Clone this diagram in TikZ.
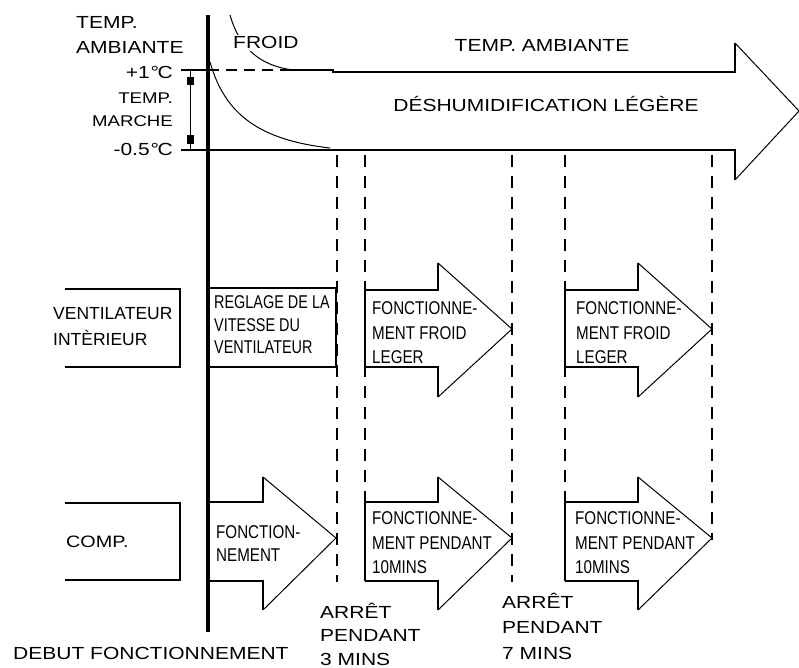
\documentclass[tikz,border=0pt]{standalone}
\usepackage{fontspec}
\setmainfont{Liberation Sans}
\newfontfamily\widefont[FakeStretch=1.2]{Liberation Sans}
\newfontfamily\narrowfont[FakeStretch=0.82]{Liberation Sans}
\newfontfamily\narrowerfont[FakeStretch=0.78]{Liberation Sans}
\begin{document}
\begin{tikzpicture}[x=1pt,y=-1pt,
  line join=miter,
  ln/.style={line width=1.4pt},
  thin/.style={line width=1pt},
  dsh/.style={line width=1.4pt, dash pattern=on 12pt off 9pt},
  wlab/.style={font=\widefont\fontsize{17.5}{25}\selectfont, inner sep=0pt, anchor=base west, align=left},
  slab/.style={font=\widefont\fontsize{15.5}{23}\selectfont, inner sep=0pt, anchor=base east, align=right},
  rlab/.style={font=\fontsize{17.5}{26}\selectfont, inner sep=0pt, anchor=base west, align=left},
  nlab/.style={font=\narrowfont\fontsize{18.5}{23.5}\selectfont, inner sep=0pt, anchor=base west, align=left}]
\useasboundingbox (0,0) rectangle (799,668);

% curves
\draw[thin] (230,15) .. controls (240,50) and (262,66) .. (293,70);
\draw[thin] (210,62) .. controls (225,115) and (260,140) .. (330,148);

% temperature lines / big arrow
\draw[ln] (181,70) -- (208,70);
\draw[ln, dash pattern=on 11pt off 7pt] (208,70) -- (290,70);
\draw[ln] (290,70) -- (333,70) -- (333,72) -- (735,72) -- (735,43);
\draw[thin] (735,43) -- (799,111) -- (735,180);
\draw[ln] (735,180) -- (735,150) -- (181,150);

% bracket
\draw[thin] (190,70) -- (190,150);
\fill (187,77) rectangle (194,85);
\fill (187,135) rectangle (194,144);

% dashed time lines
\draw[dsh] (337,155) -- (337,582);
\draw[dsh] (365,155) -- (365,502);
\draw[dsh] (512,155) -- (512,582);
\draw[dsh] (565,155) -- (565,502);
\draw[dsh] (712,155) -- (712,540);

% left boxes
\draw[ln] (65,289) -- (180,289) -- (180,367) -- (65,367);
\draw[ln] (65,503) -- (180,503) -- (180,580) -- (65,580);

% reglage box
\draw[ln, fill=white] (208,288) -- (336,288) -- (336,367) -- (208,367);

% ventilation arrows
\foreach \dx in {0,200} {
  \draw[ln, fill=white] (365+\dx,367) -- (365+\dx,290) -- (438+\dx,290) -- (438+\dx,263);
  \draw[thin] (438+\dx,263) -- (512+\dx,329) -- (438+\dx,397);
  \draw[ln] (438+\dx,397) -- (438+\dx,367) -- (365+\dx,367);
}
% compressor arrows
\draw[ln] (208,502) -- (263,502) -- (263,477);
\draw[thin] (263,477) -- (336,538) -- (263,610);
\draw[ln] (263,610) -- (263,581) -- (208,581);
\foreach \dx in {0,200} {
  \draw[ln, fill=white] (365+\dx,581) -- (365+\dx,502) -- (438+\dx,502) -- (438+\dx,477);
  \draw[thin] (438+\dx,477) -- (512+\dx,538) -- (438+\dx,610);
  \draw[ln] (438+\dx,610) -- (438+\dx,581) -- (365+\dx,581);
}

% thick start line
\draw[line width=4.5pt] (208,15) -- (208,632);

% texts (base anchor = baseline of last line)
\node[wlab] (tamb) at (76,54) {TEMP.\\AMBIANTE};
\node[wlab, anchor=base east] (p1) at (173,79) {+1\kern1pt°\kern-1.5pt C};
\node[slab] (tmar) at (173,126.5) {TEMP.\\MARCHE};
\node[wlab, anchor=base east] (m05) at (173,156) {-0.5\kern1pt°\kern-1.5pt C};
\node[wlab, fill=white, inner sep=2pt] (froid) at (231,49) {FROID};
\node[wlab, anchor=base] (ta) at (542,51.5) {TEMP. AMBIANTE};
\node[wlab, anchor=base] (desh) at (546,112) {DÉSHUMIDIFICATION LÉGÈRE};
\node[rlab] (vent) at (53,345) {VENTILATEUR\\INTÈRIEUR};
\node[wlab, font=\widefont\fontsize{16.5}{20}\selectfont] (comp) at (66,547) {COMP.};
\node[nlab, font=\narrowerfont\fontsize{18.5}{22.5}\selectfont] (regl) at (214,353.6) {REGLAGE DE LA\\VITESSE DU\\VENTILATEUR};
\node[nlab, font=\narrowfont\fontsize{18.5}{24.5}\selectfont] (fl1) at (372,363.6) {FONCTIONNE-\\MENT FROID\\LEGER};
\node[nlab, font=\narrowfont\fontsize{18.5}{24.5}\selectfont] (fl2) at (576,363.6) {FONCTIONNE-\\MENT FROID\\LEGER};
\node[nlab, font=\narrowfont\fontsize{18.5}{23}\selectfont] (fc0) at (216,561.6) {FONCTION-\\NEMENT};
\node[nlab, font=\narrowfont\fontsize{18.5}{24.5}\selectfont] (fc1) at (372,573.6) {FONCTIONNE-\\MENT PENDANT\\10MINS};
\node[nlab, font=\narrowfont\fontsize{18.5}{24.5}\selectfont] (fc2) at (575,573.6) {FONCTIONNE-\\MENT PENDANT\\10MINS};
\node[wlab, font=\widefont\fontsize{17.5}{23.5}\selectfont] (a3) at (320,665) {ARRÊT\\PENDANT\\3 MINS};
\node[wlab, font=\widefont\fontsize{17.5}{25.5}\selectfont] (a7) at (502,659) {ARRÊT\\PENDANT\\7 MINS};
\node[wlab] (debut) at (13,659) {DEBUT FONCTIONNEMENT};
\end{tikzpicture}
\end{document}
